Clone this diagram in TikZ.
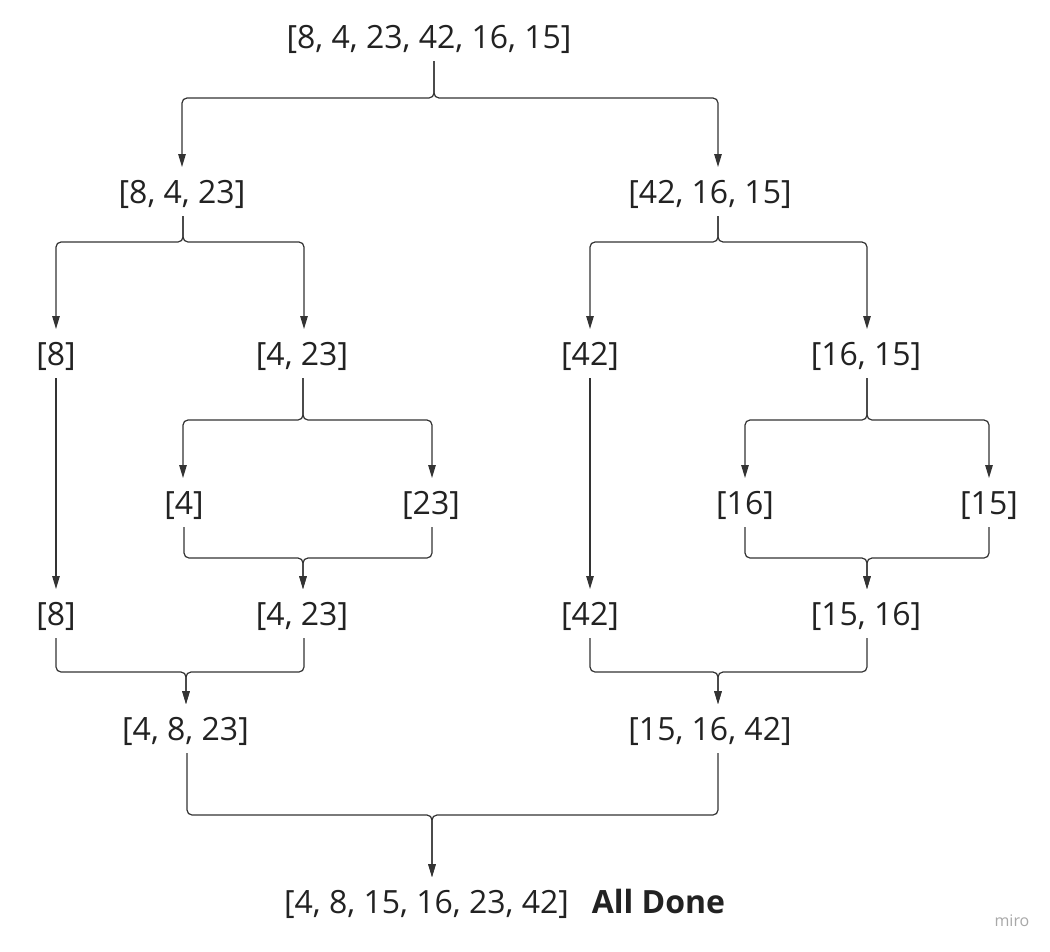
\documentclass[tikz,border=0pt]{standalone}
\usepackage{fontspec}
\setmainfont{Open Sans}
\usetikzlibrary{arrows.meta}
\definecolor{txt}{HTML}{222222}
\definecolor{ln}{HTML}{333333}
\definecolor{wm}{HTML}{A8A8A8}
\begin{document}
\begin{tikzpicture}[x=1pt,y=-1pt,
  lbl/.style={font=\fontsize{32}{38}\selectfont, text=txt, inner xsep=0pt, inner ysep=0pt, outer sep=0pt, text height=23pt, text depth=5pt, anchor=center},
  conn/.style={draw=ln, line width=1.2pt, rounded corners=5pt, -{Triangle[length=13pt,width=7.5pt]}, shorten <=8pt, shorten >=13pt},
]
\useasboundingbox[fill=white] (0,0) rectangle (1050,951);

% nodes
\node[lbl] (root) at (429,39) {[8, 4, 23, 42, 16, 15]};
\node[lbl] (L1) at (182,194) {[8, 4, 23]};
\node[lbl] (R1) at (710,194) {[42, 16, 15]};
\node[lbl] (L2a) at (56,356) {[8]};
\node[lbl] (L2b) at (302,356) {[4, 23]};
\node[lbl] (R2a) at (590,356) {[42]};
\node[lbl] (R2b) at (866,356) {[16, 15]};
\node[lbl] (L3a) at (184,505) {[4]};
\node[lbl] (L3b) at (431,505) {[23]};
\node[lbl] (R3a) at (745,505) {[16]};
\node[lbl] (R3b) at (989,505) {[15]};
\node[lbl] (L4a) at (56,616) {[8]};
\node[lbl] (L4b) at (302,616) {[4, 23]};
\node[lbl] (R4a) at (590,616) {[42]};
\node[lbl] (R4b) at (866,616) {[15, 16]};
\node[lbl] (L5) at (185.5,731) {[4, 8, 23]};
\node[lbl] (R5) at (710,731) {[15, 16, 42]};
\node[lbl] (fin) at (426.5,904) {[4, 8, 15, 16, 23, 42]};
\node[lbl, font=\fontsize{32}{38}\selectfont\bfseries] (done) at (658.5,904) {All Done};
\node[font=\fontsize{16}{18}\selectfont, text=wm, inner sep=0pt] (miro) at (1012,921) {miro};

% junction points
\coordinate (J0) at (434,98);
\coordinate (J1) at (183,242);
\coordinate (J2) at (718,242);
\coordinate (J3) at (303,420);
\coordinate (J4) at (867,420);
\coordinate (J5) at (303,558);
\coordinate (J6) at (867,558);
\coordinate (J7) at (186,672);
\coordinate (J8) at (718,672);
\coordinate (J9) at (432,815);

% splits
\draw[conn] (root.south -| J0) -- (J0) -| (L1.north);
\draw[conn] (root.south -| J0) -- (J0) -| ([xshift=8pt]R1.north);
\draw[conn] (L1.south -| J1) -- (J1) -| (L2a.north);
\draw[conn] (L1.south -| J1) -- (J1) -| ([xshift=2pt]L2b.north);
\draw[conn] (R1.south -| J2) -- (J2) -| (R2a.north);
\draw[conn] (R1.south -| J2) -- (J2) -| ([xshift=1pt]R2b.north);
\draw[conn] (L2b.south -| J3) -- (J3) -| ([xshift=-1pt]L3a.north);
\draw[conn] (L2b.south -| J3) -- (J3) -| ([xshift=1pt]L3b.north);
\draw[conn] (R2b.south -| J4) -- (J4) -| (R3a.north);
\draw[conn] (R2b.south -| J4) -- (J4) -| (R3b.north);

% straight
\draw[conn] (L2a) -- (L4a);
\draw[conn] (R2a) -- (R4a);

% merges
\draw[conn] (L3a.south) |- (J5) -- (L4b.north -| J5);
\draw[conn] ([xshift=1pt]L3b.south) |- (J5) -- (L4b.north -| J5);
\draw[conn] (R3a.south) |- (J6) -- (R4b.north -| J6);
\draw[conn] (R3b.south) |- (J6) -- (R4b.north -| J6);
\draw[conn] (L4a.south) |- (J7) -- (L5.north -| J7);
\draw[conn] ([xshift=2pt]L4b.south) |- (J7) -- (L5.north -| J7);
\draw[conn] (R4a.south) |- (J8) -- (R5.north -| J8);
\draw[conn] ([xshift=1pt]R4b.south) |- (J8) -- (R5.north -| J8);
\draw[conn] ([xshift=1.5pt]L5.south) |- (J9) -- (fin.north -| J9);
\draw[conn] ([xshift=8pt]R5.south) |- (J9) -- (fin.north -| J9);
\end{tikzpicture}
\end{document}
